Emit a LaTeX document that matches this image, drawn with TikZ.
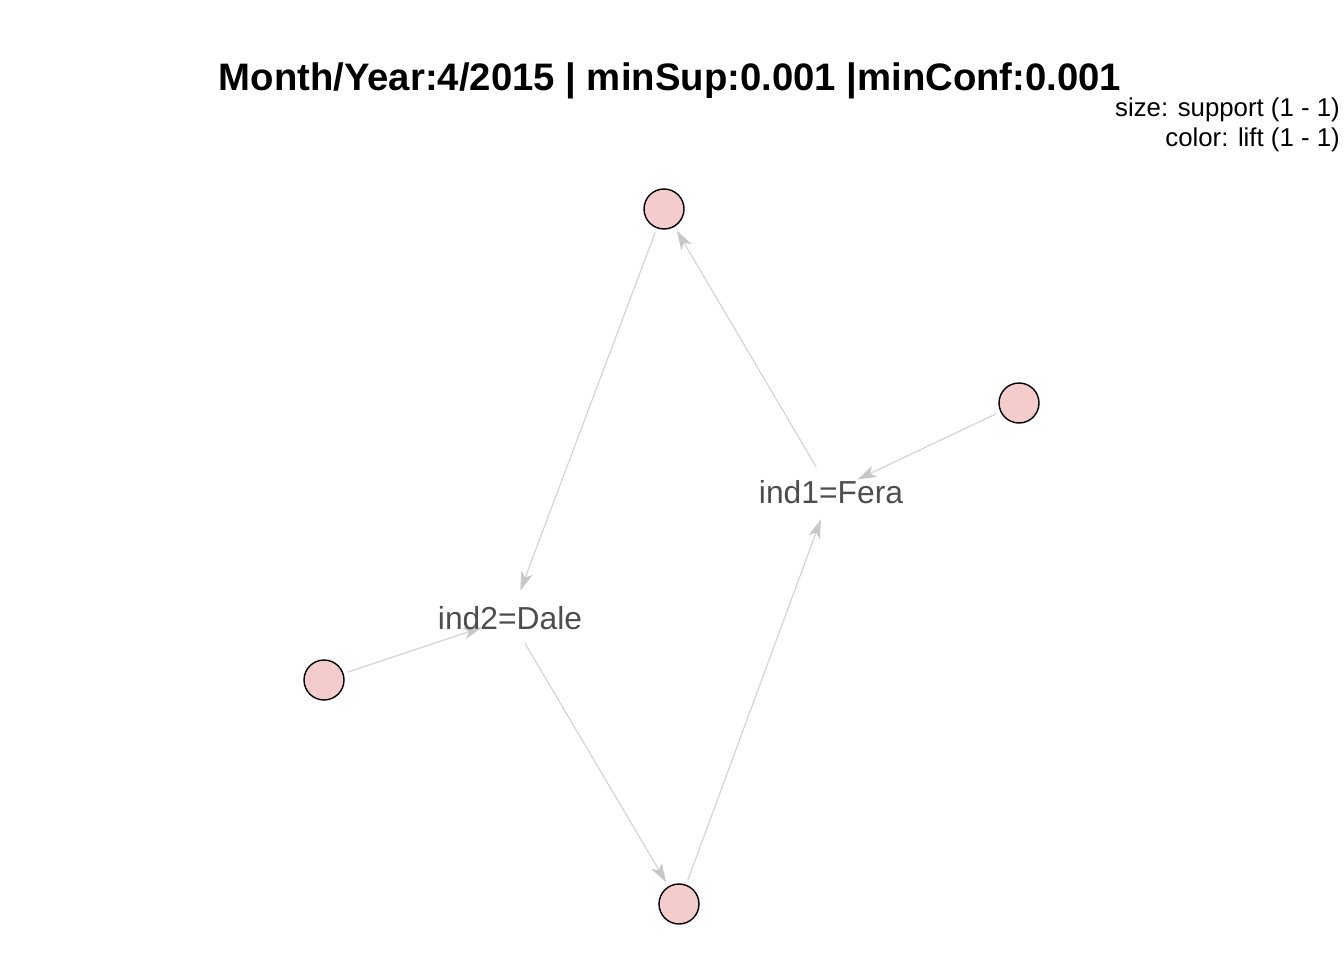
\documentclass[tikz,border=0pt]{standalone}
\usepackage{fontspec}
\setmainfont{Liberation Sans}
\usetikzlibrary{arrows.meta}
\definecolor{nodepink}{RGB}{245,204,204}
\definecolor{edgegrey}{RGB}{212,212,212}
\definecolor{arrowgrey}{RGB}{200,200,200}
\definecolor{labelgrey}{RGB}{77,77,77}
\begin{document}
\begin{tikzpicture}[x=1pt,y=-1pt,
  itemnode/.style={circle,draw=black,line width=1.4pt,fill=nodepink,minimum size=40pt,inner sep=0pt},
  itemzone/.style={circle,minimum size=50pt,inner sep=0pt},
  labelzone/.style={circle,minimum size=58pt,inner sep=0pt},
  lbltext/.style={text=labelgrey,font=\fontsize{31.8}{36}\selectfont,inner sep=0pt},
  ruleedge/.style={draw=edgegrey,line width=1.2pt,-{Stealth[length=19pt,width=12pt,inset=5pt,fill=arrowgrey,color=arrowgrey]}}
]
\useasboundingbox (0,0) rectangle (1344,960);
% title and legend
\node[font=\bfseries\fontsize{38.3}{42}\selectfont,inner sep=0pt] (title) at (670,81) {Month/Year:4/2015 | minSup:0.001 |minConf:0.001};
\node[anchor=east,font=\fontsize{25.8}{28}\selectfont,inner sep=0pt] (leg1) at (1340,110) {size: support (1 - 1)};
\node[anchor=east,font=\fontsize{25.8}{28}\selectfont,inner sep=0pt] (leg2) at (1340,140) {color: lift (1 - 1)};
% zones
\node[itemzone] (top) at (664,209) {};
\node[itemzone] (right) at (1019,403) {};
\node[itemzone] (left) at (324,680) {};
\node[itemzone] (bottom) at (679,904) {};
\node[labelzone] (fera) at (831,492) {};
\node[labelzone] (dale) at (510,618) {};
% edges
\draw[ruleedge] (fera) -- (top);
\draw[ruleedge] (right) -- (fera);
\draw[ruleedge] (top) -- (dale);
\draw[ruleedge] (left) -- (dale);
\draw[ruleedge] (dale) -- (bottom);
\draw[ruleedge] (bottom) -- (fera);
% visible nodes
\node[itemnode] (topc) at (top) {};
\node[itemnode] (rightc) at (right) {};
\node[itemnode] (leftc) at (left) {};
\node[itemnode] (bottomc) at (bottom) {};
\node[lbltext] (feralbl) at (fera) {ind1=Fera};
\node[lbltext] (dalelbl) at (dale) {ind2=Dale};
\end{tikzpicture}
\end{document}
